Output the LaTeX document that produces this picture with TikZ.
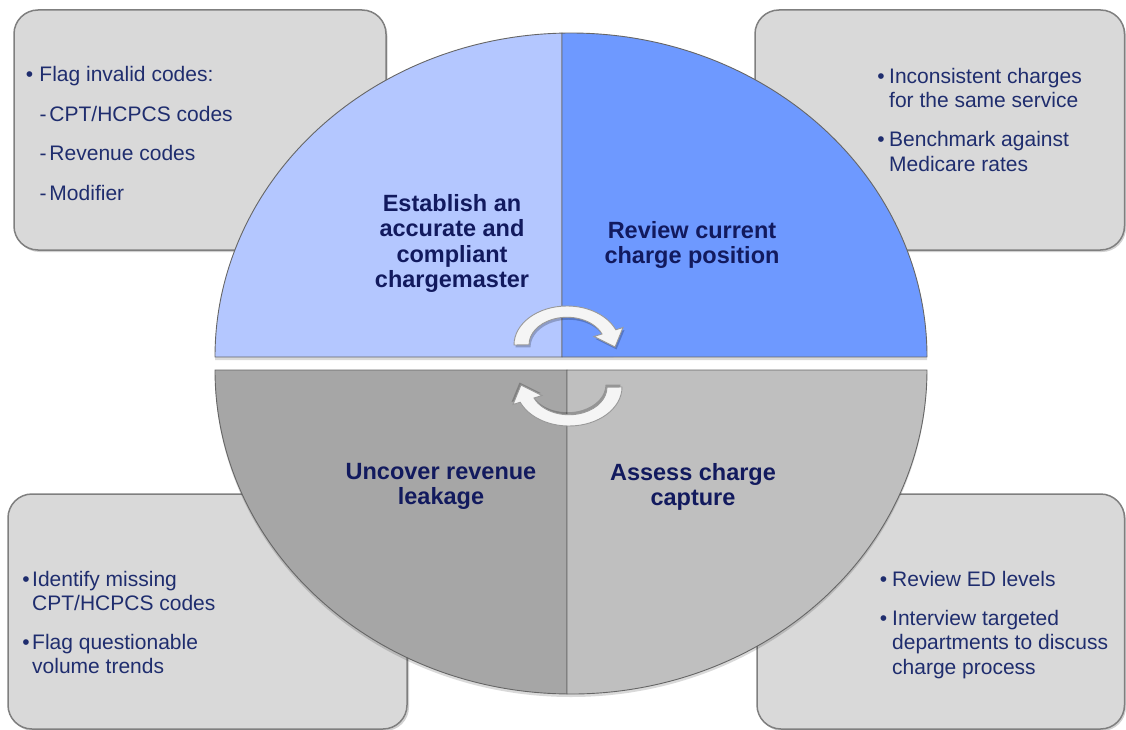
\documentclass[tikz,border=0pt]{standalone}
\usepackage{fontspec}
\setmainfont{Liberation Sans}
\definecolor{boxfill}{HTML}{D9D9D9}
\definecolor{boxline}{HTML}{7F7F7F}
\definecolor{qTL}{HTML}{B4C7FF}
\definecolor{qTR}{HTML}{6E99FF}
\definecolor{qBL}{HTML}{A6A6A6}
\definecolor{qBR}{HTML}{BFBFBF}
\definecolor{labeltext}{HTML}{121A5E}
\definecolor{bullettext}{HTML}{1F2D6E}
\newcommand\bul[1]{\llap{\textbullet\hspace{#1}}}
\begin{document}
\begin{tikzpicture}[x=1pt,y=-1pt,
  box/.style={fill=boxfill, draw=boxline, line width=1.5pt, rounded corners=24pt},
  boxshadow/.style={fill=black, opacity=0.18, rounded corners=24pt},
  bullets/.style={anchor=north west, align=left, inner sep=0pt, text=bullettext,
    font=\fontsize{21}{24.5}\selectfont},
  qlabel/.style={anchor=north, align=center, inner sep=0pt, text=labeltext,
    font=\bfseries\fontsize{23.5}{25.5}\selectfont},
  quad/.style={draw=black!60, line width=0.9pt},
  halfshadow/.style={fill=black, opacity=0.15},
  cyc/.style={fill=white!96!black, draw=black!40, line width=0.9pt},
  cycarrow/.pic={
    \fill[black, opacity=0.22, shift={(1.5,2.5)}] (514,345) arc[start angle=180, end angle=337, x radius=53, y radius=39]
      -- (623,327.5) -- (615,347) -- (594,336.5) -- (602,334)
      arc[start angle=337, end angle=180, x radius=38, y radius=27.5] -- cycle;
    \filldraw[cyc] (514,345) arc[start angle=180, end angle=337, x radius=53, y radius=39]
      -- (623,327.5) -- (615,347) -- (594,336.5) -- (602,334)
      arc[start angle=337, end angle=180, x radius=38, y radius=27.5] -- cycle;
  }]
\useasboundingbox (0,0) rectangle (1126,730);

% --- background boxes
\fill[boxshadow] (15.5,12) rectangle (387.5,252);
\draw[box] (14,10) rectangle (386,250);
\fill[boxshadow] (756.5,12) rectangle (1126,252);
\draw[box] (755,10) rectangle (1124.5,250);
\fill[boxshadow] (9.5,496) rectangle (409,731);
\draw[box] (8,494) rectangle (407,729);
\fill[boxshadow] (758.5,496) rectangle (1126,731);
\draw[box] (757,494) rectangle (1124.5,729);

% --- shadows of the two halves
\fill[halfshadow] (215,360) arc[start angle=180, end angle=360, x radius=356, y radius=324] -- cycle;
\fill[halfshadow] (215,373) arc[start angle=180, end angle=0, x radius=356, y radius=324] -- cycle;

% --- quadrants
\filldraw[quad, fill=qTL] (562,357) -- (215,357)
  arc[start angle=180, end angle=268.55, x radius=356, y radius=324] -- cycle;
\filldraw[quad, fill=qTR] (562,357) -- (562,33.1)
  arc[start angle=268.55, end angle=360, x radius=356, y radius=324] -- cycle;
\filldraw[quad, fill=qBL] (567,370) -- (215,370)
  arc[start angle=180, end angle=90.64, x radius=356, y radius=324] -- cycle;
\filldraw[quad, fill=qBR] (567,370) -- (567,694)
  arc[start angle=90.64, end angle=0, x radius=356, y radius=324] -- cycle;

% --- cycle arrows
\pic {cycarrow};
\pic[rotate=180] at (1136,732) {cycarrow};

% --- quadrant labels
\node[qlabel] (lTL) at (452,194) {Establish an\\accurate and\\compliant\\chargemaster};
\node[qlabel] (lTR) at (692,221) {Review current\\charge position};
\node[qlabel] (lBL) at (441,463) {Uncover revenue\\leakage};
\node[qlabel] (lBR) at (693,463) {Assess charge\\capture};

% --- box texts
\node[bullets] (tTL) at (39.3,66.5) {\bul{6.3pt}Flag invalid codes:\\[15pt]
  \makebox[10pt][l]{-}CPT/HCPCS codes\\[15pt]
  \makebox[10pt][l]{-}Revenue codes\\[15pt]
  \makebox[10pt][l]{-}Modifier};
\node[bullets] (tTR) at (889,68) {\bul{4.6pt}Inconsistent charges\\
  for the same service\\[14.5pt]
  \bul{4.6pt}Benchmark against\\
  Medicare rates};
\node[bullets] (tBL) at (32,571) {\bul{2.4pt}Identify missing\\
  CPT/HCPCS codes\\[14pt]
  \bul{2.4pt}Flag questionable\\
  volume trends};
\node[bullets] (tBR) at (892,571) {\bul{5pt}Review ED levels\\[14.5pt]
  \bul{5pt}Interview targeted\\
  departments to discuss\\
  charge process};
\end{tikzpicture}
\end{document}
